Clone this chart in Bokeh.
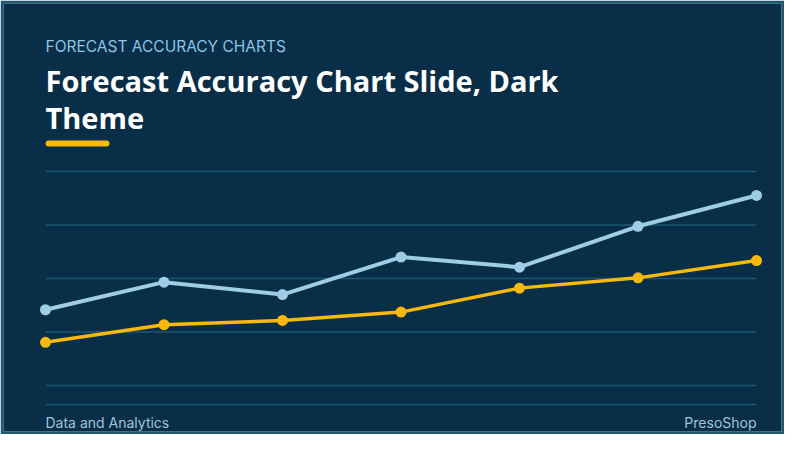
from bokeh.plotting import figure
from bokeh.models import Label, BoxAnnotation, Range1d
from bokeh.embed import file_html
from bokeh.resources import INLINE

# data (no axis labels shown, so values are on a 0-100 scale)
periods = [0, 1, 2, 3, 4, 5, 6]
actual = [35.4, 48.3, 42.5, 60.0, 55.3, 74.4, 88.8]
forecast = [20.2, 28.4, 30.4, 34.3, 45.5, 50.3, 58.4]
grid_values = [0, 25, 50, 75, 100]
footer_rule = -8.9

BG = "#082e48"
FRAME = "#1d5870"
GRID = "#1e5671"
BLUE = "#9fcde6"
GOLD = "#f8b80c"
FONT = "Inter"
TITLE_FONT = "Open Sans"

W, H = 784, 434
B = 3  # border thickness
# where the chart sits on the canvas (px from the top-left)
X0_PX, X1_PX = 45, 756
Y0_PX, Y100_PX = 385, 171

kx = (X1_PX - X0_PX) / (periods[-1] - periods[0])
ky = (Y0_PX - Y100_PX) / 100.0
x_range = Range1d(periods[0] - (X0_PX - B) / kx, periods[-1] + (W - B - X1_PX) / kx)
y_range = Range1d(0 - (H - B - Y0_PX) / ky, 100 + (Y100_PX - B) / ky)

p = figure(width=W, height=H, x_range=x_range, y_range=y_range,
           x_axis_type=None, y_axis_type=None, toolbar_location=None,
           output_backend="svg", min_border=B)
p.min_border_left = B
p.min_border_right = B
p.min_border_top = B
p.min_border_bottom = B
p.border_fill_color = FRAME
p.background_fill_color = BG
p.outline_line_color = None
p.xgrid.visible = False
p.ygrid.visible = False

# horizontal guide lines
p.segment(x0=[periods[0]] * len(grid_values), x1=[periods[-1]] * len(grid_values),
          y0=grid_values, y1=grid_values, line_color=GRID, line_width=1.5)
p.segment(x0=[periods[0]], x1=[periods[-1]], y0=[footer_rule], y1=[footer_rule],
          line_color=GRID, line_width=1.5)

p.line(periods, actual, line_color=BLUE, line_width=4)
p.scatter(periods, actual, size=11, fill_color=BLUE, line_color=None)
p.line(periods, forecast, line_color=GOLD, line_width=3.5)
p.scatter(periods, forecast, size=11, fill_color=GOLD, line_color=None)


def sx(cx):
    return cx - B


def sy(cy):
    return (H - B) - cy


def txt(text, cx, cy, size, color, style="normal", align="left", font=FONT):
    # cy is the vertical centre of the capitals
    p.add_layout(Label(x=sx(cx), y=sy(cy), x_units="screen", y_units="screen",
                       text=text, text_font=font, text_font_size=f"{size}px",
                       text_color=color, text_font_style=style,
                       text_align=align, text_baseline="alphabetic"))


txt("FORECAST ACCURACY CHARTS", 45, 46, 15.5, "#8ec4e4")
txt("Forecast Accuracy Chart Slide, Dark", 45, 80, 29, "#ffffff", "bold", font=TITLE_FONT)
txt("Theme", 45, 117, 29, "#ffffff", "bold", font=TITLE_FONT)
txt("Data and Analytics", 45, 422, 14, "#9fc4dc")
txt("PresoShop", 756, 422, 14, "#9fc4dc", align="right")

# gold accent under the title
p.add_layout(BoxAnnotation(left=sx(45), right=sx(109), top=sy(140), bottom=sy(146),
                           left_units="screen", right_units="screen",
                           top_units="screen", bottom_units="screen",
                           fill_color=GOLD, fill_alpha=1, line_color=None,
                           border_radius=3))

open("out.html", "w").write(file_html(p, INLINE))
